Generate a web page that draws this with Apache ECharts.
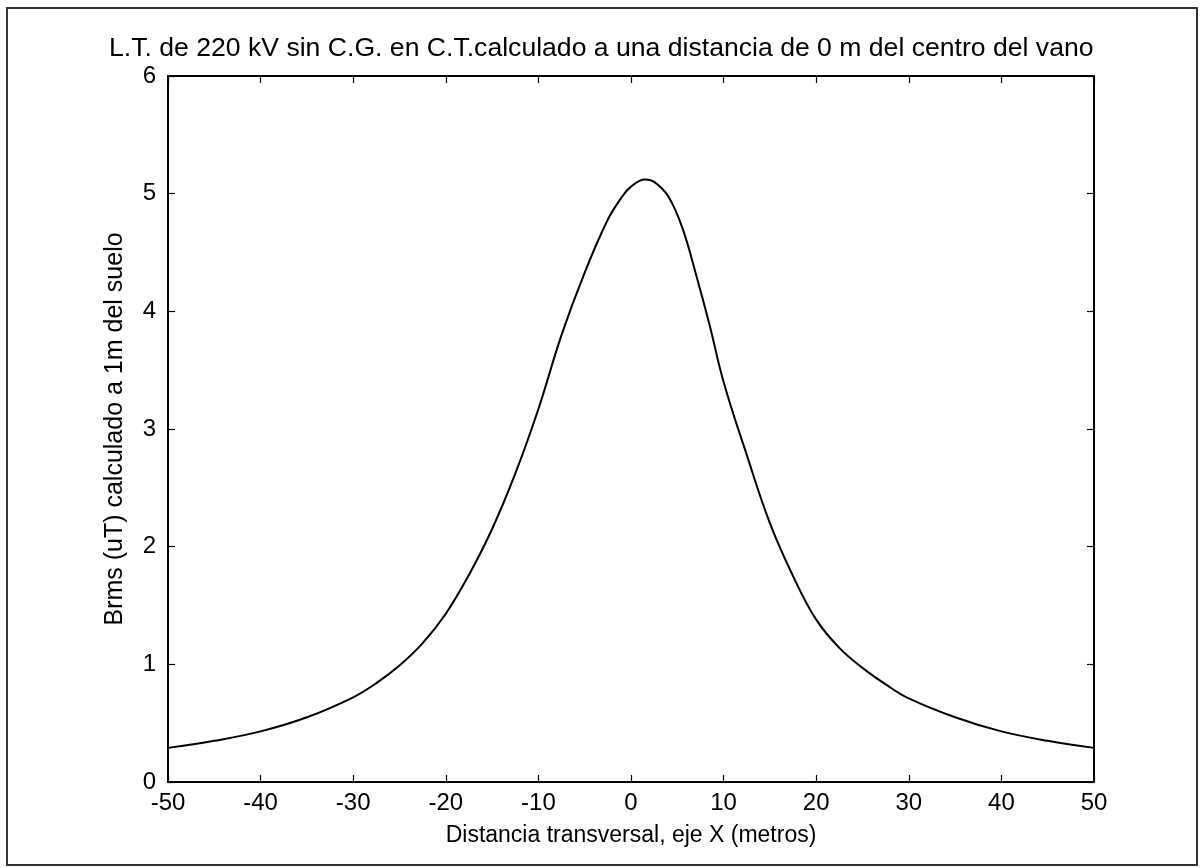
<!DOCTYPE html>
<html>
<head>
<meta charset="utf-8">
<script src="https://cdn.jsdelivr.net/npm/echarts@6/dist/echarts.min.js"></script>
<style>
html,body{margin:0;padding:0;background:#fff;}
#c{width:1202px;height:868px;}
</style>
</head>
<body>
<div id="c"></div>
<script>
const titleText = 'L.T. de 220 kV sin C.G. en C.T.calculado a una distancia de 0 m del centro del vano';
const xAxisTitle = 'Distancia transversal, eje X (metros)';
const yAxisTitle = 'Brms (uT) calculado a 1m del suelo';
const xDist = [-50,-45,-40,-35,-30,-27.5,-25,-22.5,-20,-17.5,-15,-12.5,-10,-7.5,-5,-2.5,-1,0,1.5,2.5,4,5.5,7,8.5,10,12.5,15,17.5,20,22.5,25,27.5,30,35,40,45,50];
const bField = [0.29,0.35,0.43,0.55,0.72,0.84,0.99,1.18,1.43,1.76,2.15,2.62,3.17,3.8,4.33,4.78,4.97,5.06,5.12,5.1,4.98,4.72,4.32,3.88,3.4,2.78,2.2,1.75,1.38,1.14,0.97,0.83,0.71,0.55,0.43,0.35,0.29];
const xTicks = [-50,-40,-30,-20,-10,0,10,20,30,40,50];
const yTicks = [0,1,2,3,4,5,6];

const chart = echarts.init(document.getElementById('c'), null, {renderer:'canvas'});
const font = '"Liberation Sans", Arial, sans-serif';
const tickCommon = {show:true, inside:true, length:7, lineStyle:{color:'#000', width:1.2}};
const lineCommon = {show:true, onZero:false, lineStyle:{color:'#000', width:2}};
chart.setOption({
  animation:false,
  backgroundColor:'#fff',
  graphic:[{type:'rect', shape:{x:7, y:8, width:1190, height:857}, style:{fill:'none', stroke:'#333', lineWidth:2}, z:-1}],
  title:{text:titleText, left:104, top:30, textStyle:{fontFamily:font, fontSize:26.6, fontWeight:'normal', color:'#000'}},
  grid:{left:168, top:76, width:926, height:706, show:false},
  xAxis:[{
    type:'value', min:-50, max:50, interval:10, position:'bottom',
    name:xAxisTitle, nameLocation:'middle', nameGap:42,
    nameTextStyle:{fontFamily:font, fontSize:23, color:'#000'},
    axisLine:lineCommon,
    axisTick:tickCommon, splitLine:{show:false},
    axisLabel:{fontFamily:font, fontSize:24, color:'#000', margin:9, formatter:v=>xTicks.includes(v)?String(v):''}
  },{
    type:'value', min:-50, max:50, interval:10, position:'top',
    axisLine:lineCommon,
    axisTick:tickCommon, splitLine:{show:false}, axisLabel:{show:false}
  }],
  yAxis:[{
    type:'value', min:0, max:6, interval:1, position:'left',
    name:yAxisTitle, nameLocation:'middle', nameGap:40, nameRotate:90,
    nameTextStyle:{fontFamily:font, fontSize:25, color:'#000'},
    axisLine:lineCommon,
    axisTick:tickCommon, splitLine:{show:false},
    axisLabel:{fontFamily:font, fontSize:24, color:'#000', margin:12, formatter:v=>yTicks.includes(v)?String(v):''}
  },{
    type:'value', min:0, max:6, interval:1, position:'right',
    axisLine:lineCommon,
    axisTick:tickCommon, splitLine:{show:false}, axisLabel:{show:false}
  }],
  series:[{
    type:'line', xAxisIndex:0, yAxisIndex:0,
    data:xDist.map((x,i)=>[x,bField[i]]),
    smooth:0.4, showSymbol:false, symbol:'none',
    lineStyle:{color:'#000', width:2}
  }]
});
</script>
</body>
</html>
